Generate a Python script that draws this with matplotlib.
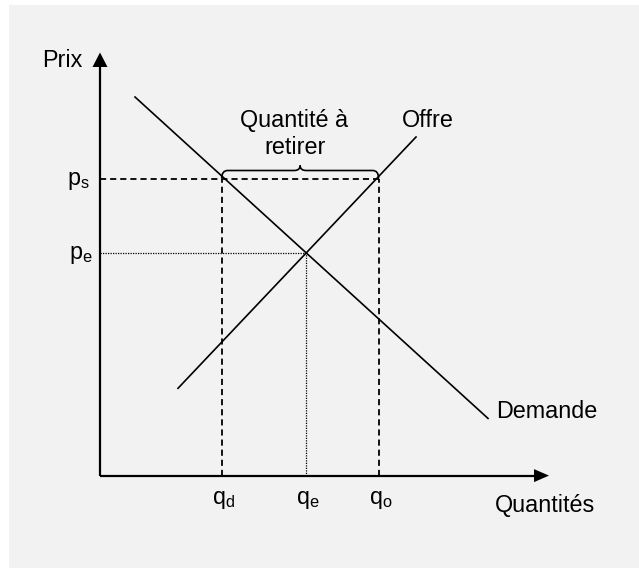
import matplotlib.pyplot as plt
from matplotlib.patches import Rectangle, PathPatch
from matplotlib.path import Path

plt.rcParams['font.family'] = ['Liberation Sans', 'DejaVu Sans']
plt.rcParams['mathtext.fontset'] = 'custom'
plt.rcParams['mathtext.rm'] = 'Liberation Sans'

# schematic data (units: quantity / price)
demand_q = [0.35, 3.88]
demand_p = [3.786, 0.572]
supply_q = [0.78, 3.16]
supply_p = [0.873, 3.386]
p_s, p_e = 2.971, 2.231
q_d, q_e, q_o = 1.217, 2.056, 2.786
x_max, y_max = 4.49, 4.231

fig = plt.figure(figsize=(6.39, 5.68), dpi=100, facecolor='white')
ax = fig.add_axes([0, 0, 1, 1])
ax.set_xlim(-1.0, 5.39)
ax.set_ylim(-0.924, 4.756)
ax.axis('off')
ax.add_patch(Rectangle((9/639, 0), 1, 1 - 5/568, transform=ax.transAxes,
                       facecolor='#f2f2f2', edgecolor='none', zorder=0))

# axes with arrows
ax.plot([0, 0], [0, y_max - 0.12], color='black', lw=1.6, solid_capstyle='butt')
ax.plot([0, x_max - 0.12], [0, 0], color='black', lw=1.6, solid_capstyle='butt')
ax.fill([-0.075, 0.075, 0], [y_max - 0.145, y_max - 0.145, y_max], color='black', lw=0)
ax.fill([x_max - 0.15, x_max - 0.15, x_max], [-0.065, 0.065, 0], color='black', lw=0)

# curves
ax.plot(demand_q, demand_p, color='black', lw=1.2)
ax.plot(supply_q, supply_p, color='black', lw=1.2)

# dashed guides at p_s
dash = dict(color='black', lw=1.3, dashes=(3.4, 2.2))
ax.plot([0, q_o], [p_s, p_s], **dash)
ax.plot([q_d, q_d], [0, p_s], **dash)
ax.plot([q_o, q_o], [0, p_s], **dash)

# dotted guides at equilibrium
dot = dict(color='black', lw=0.9, dashes=(1, 1))
ax.plot([0, q_e], [p_e, p_e], **dot)
ax.plot([q_e, q_e], [0, p_e], **dot)

# brace over the gap
mid = (q_d + q_o) / 2
h1, h2, r = 0.08, 0.13, 0.06
verts = [(q_d, p_s), (q_d, p_s + h1), (q_d + r, p_s + h1),
         (mid - r, p_s + h1), (mid, p_s + h1), (mid, p_s + h2),
         (mid, p_s + h1), (mid + r, p_s + h1),
         (q_o - r, p_s + h1), (q_o, p_s + h1), (q_o, p_s)]
codes = [Path.MOVETO, Path.CURVE3, Path.CURVE3,
         Path.LINETO, Path.CURVE3, Path.CURVE3,
         Path.CURVE3, Path.CURVE3,
         Path.LINETO, Path.CURVE3, Path.CURVE3]
ax.add_patch(PathPatch(Path(verts, codes), facecolor='none', edgecolor='black', lw=1.2))

fs = 16.8
ax.text(-0.58, 4.089, 'Prix', fontsize=fs, ha='left', va='baseline')
ax.text(-0.10, p_s - 0.02, r'$\mathrm{p}_\mathrm{s}$', fontsize=fs, ha='right', va='center')
ax.text(-0.07, p_e - 0.02, r'$\mathrm{p}_\mathrm{e}$', fontsize=fs, ha='right', va='center')
for q, lab in [(q_d, 'd'), (q_e, 'e'), (q_o, 'o')]:
    ax.text(q + 0.02, -0.285, r'$\mathrm{q}_\mathrm{%s}$' % lab, fontsize=fs,
            ha='center', va='baseline')
ax.text(1.945, 3.483, 'Quantité à', fontsize=fs, ha='center', va='baseline')
ax.text(1.95, 3.213, 'retirer', fontsize=fs, ha='center', va='baseline')
ax.text(3.017, 3.489, 'Offre', fontsize=fs, ha='left', va='baseline')
ax.text(3.96, 0.573, 'Demande', fontsize=fs, ha='left', va='baseline')
ax.text(3.95, -0.367, 'Quantités', fontsize=fs, ha='left', va='baseline')

fig.savefig('out.png', dpi=100, facecolor='white')
